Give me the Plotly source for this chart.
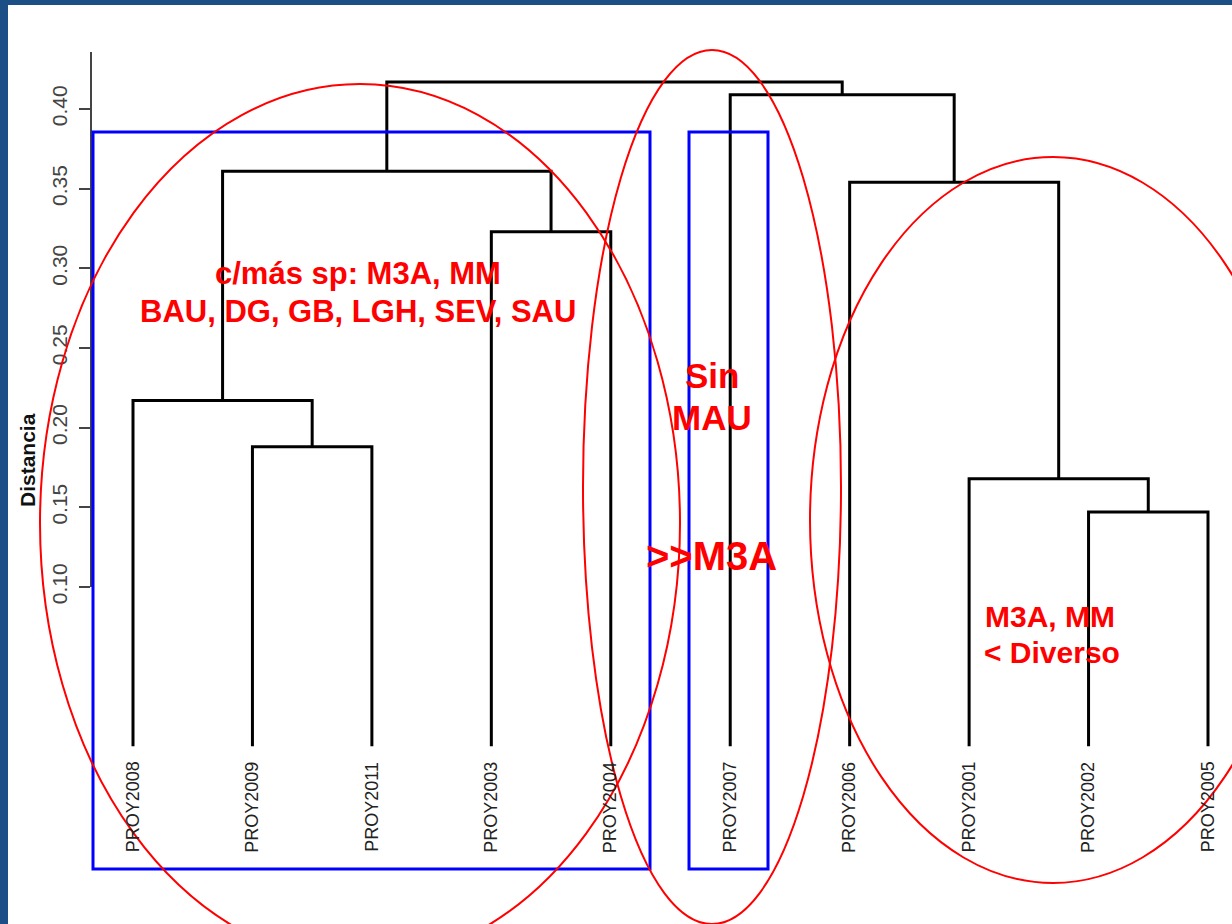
import plotly.graph_objects as go

# leaf order along the dendrogram
leaves = ["PROY2008", "PROY2009", "PROY2011", "PROY2003", "PROY2004",
          "PROY2007", "PROY2006", "PROY2001", "PROY2002", "PROY2005"]

# merges: child references are leaf names or the index of an earlier merge
merge_left = ["PROY2002", "PROY2001", "PROY2009", "PROY2008", "PROY2003",
              "PROY2006", 3, "PROY2007", 6]
merge_right = ["PROY2005", 0, "PROY2011", 2, "PROY2004", 1, 4, 5, 7]
merge_height = [0.147, 0.168, 0.188, 0.217, 0.323, 0.354, 0.361, 0.409, 0.417]

tick_vals = [0.10, 0.15, 0.20, 0.25, 0.30, 0.35, 0.40]

W, H = 1232, 924
ML, MT = 8, 5
PW, PH = W - ML, H - MT


def px(x):
    return (x - ML) / PW


def py(y):
    return (H - y) / PH


# pixel -> data mapping used for axis ranges
X0, DX = 133, 119.444
Y0, DY = 587, 1593.3
xr = [1 + (ML - X0) / DX, 1 + (W - X0) / DX]
yr = [0.10 - (H - Y0) / DY, 0.10 + (Y0 - MT) / DY]

pos = {name: (i + 1, 0.0) for i, name in enumerate(leaves)}


def node(ref):
    return pos[ref] if isinstance(ref, str) else pos[("m", ref)]


fig = go.Figure()
for k, (a, b, h) in enumerate(zip(merge_left, merge_right, merge_height)):
    (xa, ha), (xb, hb) = node(a), node(b)
    pos[("m", k)] = ((xa + xb) / 2, h)
    fig.add_trace(go.Scatter(
        x=[xa, xa, xb, xb], y=[ha, h, h, hb], mode="lines",
        line=dict(color="black", width=3), hoverinfo="skip",
        showlegend=False))

# helper trace so the visible distance axis is drawn
fig.add_trace(go.Scatter(x=[1, 1], y=[tick_vals[0], merge_height[-1]],
                         yaxis="y2", mode="markers", opacity=0,
                         showlegend=False, hoverinfo="skip"))

for i, name in enumerate(leaves):
    fig.add_annotation(x=i + 1, y=-0.0085, text=name, textangle=-90,
                       showarrow=False, xanchor="center", yanchor="top",
                       font=dict(family="Liberation Sans", size=18,
                                 color="#222"))

# white slide panel behind everything
fig.add_shape(type="rect", xref="paper", yref="paper", x0=0, x1=1, y0=0,
              y1=1, layer="below", line=dict(width=0), fillcolor="white")

blue = dict(type="rect", xref="paper", yref="paper",
            line=dict(color="#0000ff", width=3))
fig.add_shape(**blue, x0=px(93), x1=px(650), y0=py(869), y1=py(132))
fig.add_shape(**blue, x0=px(689), x1=px(768), y0=py(869), y1=py(132))

red = dict(type="circle", xref="paper", yref="paper",
           line=dict(color="#ff0000", width=2))
fig.add_shape(**red, x0=px(40), x1=px(680), y0=py(962), y1=py(84))
fig.add_shape(**red, x0=px(583), x1=px(841), y0=py(924), y1=py(50))
fig.add_shape(**red, x0=px(810), x1=px(1296), y0=py(883), y1=py(157))

notes = [
    ("c/más sp: M3A, MM", 358, 273, 31),
    ("BAU, DG, GB, LGH, SEV, SAU", 358, 312, 31),
    ("Sin", 712, 375, 35),
    ("MAU", 712, 418, 35),
    (">>M3A", 711, 556, 40),
    ("M3A, MM", 1050, 616, 30),
    ("< Diverso", 1052, 653, 30),
]
for text, x, y, size in notes:
    fig.add_annotation(x=px(x), y=py(y), xref="paper", yref="paper",
                       text=text, showarrow=False, xanchor="center",
                       yanchor="middle",
                       font=dict(family="Liberation Sans", size=size,
                                 color="#ff0000", weight="bold"))

fig.add_annotation(x=px(27), y=py(460), xref="paper", yref="paper",
                   text="Distancia", textangle=-90, showarrow=False,
                   xanchor="center", yanchor="middle",
                   font=dict(family="Liberation Sans", size=21,
                             color="#111", weight="bold"))

fig.update_layout(
    width=W, height=H,
    margin=dict(l=ML, r=0, t=MT, b=0, autoexpand=False),
    paper_bgcolor="#1b4f86", plot_bgcolor="rgba(0,0,0,0)",
    xaxis=dict(range=xr, visible=False, fixedrange=True, automargin=False),
    yaxis=dict(range=yr, visible=False, fixedrange=True, automargin=False),
    yaxis2=dict(range=[0.10, 0.10 + (Y0 - 52) / DY],
                domain=[py(Y0), py(52)], anchor="free", position=px(91),
                automargin=False, fixedrange=True,
                showline=True, linecolor="#444", linewidth=2,
                ticks="outside", ticklen=11, tickwidth=2, tickcolor="#444",
                tickvals=tick_vals, tickformat=".2f", tickangle=-90,
                showgrid=False, zeroline=False, ticklabelstandoff=4,
                tickfont=dict(family="Liberation Sans", size=21,
                              color="#444")),
    showlegend=False,
)

fig.write_html("out.html", config={"displayModeBar": False},
               post_script="document.body.style.margin='0';")
